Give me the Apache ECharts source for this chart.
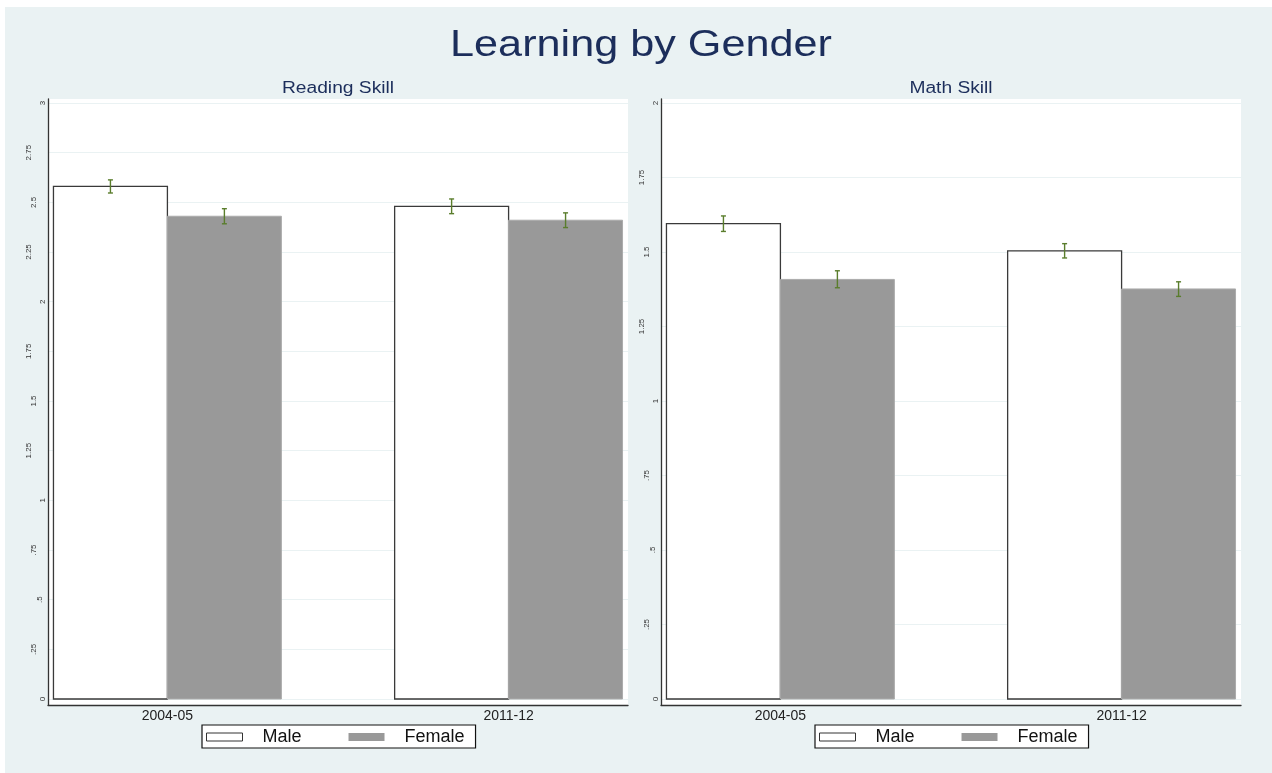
<!DOCTYPE html>
<html>
<head>
<meta charset="utf-8">
<title>Learning by Gender</title>
<script src="https://cdn.jsdelivr.net/npm/echarts@6/dist/echarts.min.js"></script>
<style>
  html, body { margin: 0; padding: 0; background: #ffffff; }
  #frame { position: absolute; left: 5px; top: 7px; right: 0; bottom: 0; background: #eaf2f3; }
  #chart { position: absolute; left: 0; top: 0; width: 1272px; height: 773px; }
</style>
</head>
<body>
<div id="frame"></div>
<div id="chart"></div>
<script>
// Survey rounds on the horizontal axis
const categories = ['2004-05', '2011-12'];

// Reading skill: mean scores and confidence limits
const readingMale = [2.58, 2.48];
const readingMaleLo = [2.547, 2.443];
const readingMaleHi = [2.613, 2.517];
const readingFemale = [2.43, 2.41];
const readingFemaleLo = [2.392, 2.373];
const readingFemaleHi = [2.468, 2.447];

// Math skill: mean scores and confidence limits
const mathMale = [1.595, 1.504];
const mathMaleLo = [1.569, 1.480];
const mathMaleHi = [1.621, 1.528];
const mathFemale = [1.408, 1.376];
const mathFemaleLo = [1.380, 1.351];
const mathFemaleHi = [1.437, 1.400];

// Value axis tick labels
const readingTicks = [0, 0.25, 0.5, 0.75, 1, 1.25, 1.5, 1.75, 2, 2.25, 2.5, 2.75, 3];
const mathTicks = [0, 0.25, 0.5, 0.75, 1, 1.25, 1.5, 1.75, 2];

const FONT = '"Liberation Sans", Arial, sans-serif';
const NAVY = '#1c2e5b';
const ERR_COLOR = '#5a7d2c';
const X_PAD = 0.35;     // space outside the outer bars, in group units
const BAR_W = 0.334;    // bar width, in group units

const chart = echarts.init(document.getElementById('chart'), null, { renderer: 'canvas' });

// Stata-like tick text: ".25" instead of "0.25"
function tickText(v) {
  return String(+v.toFixed(2)).replace(/^0\./, '.');
}
// Rotated labels sit further from the axis the longer they are
function tickLabel(v) {
  const s = tickText(v);
  return '{l' + Math.min(s.length, 4) + '|' + s + '}';
}
const tickRich = {
  l1: { padding: [0, 0, 0, 0] },
  l2: { padding: [0, 0, 3, 0] },
  l3: { padding: [0, 0, 9, 0] },
  l4: { padding: [0, 0, 14, 0] }
};

function barRenderer(side) {
  return function (params, api) {
    const i = api.value(0);
    const v = api.value(1);
    const x0 = side === 0 ? i - BAR_W : i;
    const p0 = api.coord([x0, v]);
    const p1 = api.coord([x0 + BAR_W, 0]);
    return {
      type: 'rect',
      shape: { x: p0[0], y: p0[1], width: p1[0] - p0[0], height: p1[1] - p0[1] },
      style: api.style()
    };
  };
}

function errRenderer(side) {
  const offset = side === 0 ? -BAR_W / 2 : BAR_W / 2;
  return function (params, api) {
    const x = api.value(0) + offset;
    const lo = api.coord([x, api.value(1)]);
    const hi = api.coord([x, api.value(2)]);
    const cap = 2.5;
    const style = { stroke: ERR_COLOR, lineWidth: 1.4 };
    return {
      type: 'group',
      children: [
        { type: 'line', shape: { x1: lo[0], y1: lo[1], x2: hi[0], y2: hi[1] }, style: style },
        { type: 'line', shape: { x1: lo[0] - cap, y1: lo[1], x2: lo[0] + cap, y2: lo[1] }, style: style },
        { type: 'line', shape: { x1: hi[0] - cap, y1: hi[1], x2: hi[0] + cap, y2: hi[1] }, style: style }
      ]
    };
  };
}

const maleStyle = { color: '#ffffff', borderColor: '#3a3a3a', borderWidth: 1.3 };
const femaleStyle = { color: '#999999', borderColor: '#ababab', borderWidth: 1 };

function frameAxes(gridIndex) {
  const line = { show: true, lineStyle: { color: '#333333', width: 1.3 } };
  return {
    x: { type: 'value', gridIndex: gridIndex, min: 0, max: 1, axisLine: line,
         axisTick: { show: false }, axisLabel: { show: false }, splitLine: { show: false } },
    y: { type: 'value', gridIndex: gridIndex, min: 0, max: 1, axisLine: line,
         axisTick: { show: false }, axisLabel: { show: false }, splitLine: { show: false } }
  };
}

function dataAxes(gridIndex, ticks) {
  return {
    x: {
      type: 'value', gridIndex: gridIndex, min: -X_PAD, max: 1 + X_PAD,
      axisLine: { show: false }, axisTick: { show: false }, splitLine: { show: false },
      axisLabel: {
        customValues: categories.map((c, i) => i),
        formatter: v => categories[Math.round(v)] || '',
        fontSize: 14, color: '#222222', margin: 10, fontFamily: FONT
      }
    },
    y: {
      type: 'value', gridIndex: gridIndex,
      min: ticks[0], max: ticks[ticks.length - 1], interval: ticks[1] - ticks[0],
      axisLine: { show: false }, axisTick: { show: false },
      splitLine: { show: true, lineStyle: { color: '#eaf2f3', width: 1 } },
      axisLabel: {
        rotate: 90, margin: 1, fontSize: 8, color: '#333333', fontFamily: FONT,
        formatter: tickLabel, rich: tickRich
      }
    }
  };
}

const fL = frameAxes(0), dL = dataAxes(1, readingTicks);
const fR = frameAxes(2), dR = dataAxes(3, mathTicks);

function pairs(values) { return values.map((v, i) => [i, v]); }
function triples(lo, hi) { return lo.map((v, i) => [i, v, hi[i]]); }

function panelSeries(xIdx, male, female, mLo, mHi, fLo, fHi) {
  return [
    { type: 'custom', name: 'Male', xAxisIndex: xIdx, yAxisIndex: xIdx, renderItem: barRenderer(0),
      itemStyle: maleStyle, data: pairs(male), encode: { x: 0, y: 1 } },
    { type: 'custom', name: 'Female', xAxisIndex: xIdx, yAxisIndex: xIdx, renderItem: barRenderer(1),
      itemStyle: femaleStyle, data: pairs(female), encode: { x: 0, y: 1 } },
    { type: 'custom', name: 'Male CI', xAxisIndex: xIdx, yAxisIndex: xIdx, renderItem: errRenderer(0),
      data: triples(mLo, mHi), encode: { x: 0, y: [1, 2] }, z: 3 },
    { type: 'custom', name: 'Female CI', xAxisIndex: xIdx, yAxisIndex: xIdx, renderItem: errRenderer(1),
      data: triples(fLo, fHi), encode: { x: 0, y: [1, 2] }, z: 3 }
  ];
}

function legendAt(left) {
  return {
    left: left, top: 725, orient: 'horizontal', selectedMode: false,
    icon: 'rect', itemWidth: 36, itemHeight: 8, itemGap: 47,
    padding: [3, 11, 2, 4],
    borderColor: '#111111', borderWidth: 1.2, backgroundColor: '#ffffff',
    formatter: name => '{t|' + name + '}',
    textStyle: {
      fontSize: 18, color: '#111111', fontFamily: FONT,
      rich: { t: { padding: [0, 0, 0, 15], fontSize: 18, fontFamily: FONT } }
    },
    data: [
      { name: 'Male', itemStyle: { color: '#ffffff', borderColor: '#333333', borderWidth: 1 } },
      { name: 'Female', itemStyle: { color: '#999999', borderWidth: 0 } }
    ]
  };
}

const option = {
  backgroundColor: 'transparent',
  animation: false,
  textStyle: { fontFamily: FONT },
  graphic: [
    { type: 'text', x: 641, y: 46, scaleX: 1.2, silent: true,
      style: { text: 'Learning by Gender', font: '36px ' + FONT, fill: NAVY, align: 'center', verticalAlign: 'middle' } },
    { type: 'text', x: 338, y: 89, scaleX: 1.2, silent: true,
      style: { text: 'Reading Skill', font: '16px ' + FONT, fill: NAVY, align: 'center', verticalAlign: 'middle' } },
    { type: 'text', x: 951, y: 89, scaleX: 1.2, silent: true,
      style: { text: 'Math Skill', font: '16px ' + FONT, fill: NAVY, align: 'center', verticalAlign: 'middle' } }
  ],
  legend: [legendAt(202), legendAt(815)],
  grid: [
    { left: 48, top: 99, width: 580, height: 606, show: true, backgroundColor: '#ffffff', borderWidth: 0 },
    { left: 48, top: 103, width: 580, height: 596 },
    { left: 661, top: 99, width: 580, height: 606, show: true, backgroundColor: '#ffffff', borderWidth: 0 },
    { left: 661, top: 103, width: 580, height: 596 }
  ],
  xAxis: [fL.x, dL.x, fR.x, dR.x],
  yAxis: [fL.y, dL.y, fR.y, dR.y],
  series: [].concat(
    panelSeries(1, readingMale, readingFemale, readingMaleLo, readingMaleHi, readingFemaleLo, readingFemaleHi),
    panelSeries(3, mathMale, mathFemale, mathMaleLo, mathMaleHi, mathFemaleLo, mathFemaleHi)
  )
};

chart.setOption(option);
</script>
</body>
</html>
